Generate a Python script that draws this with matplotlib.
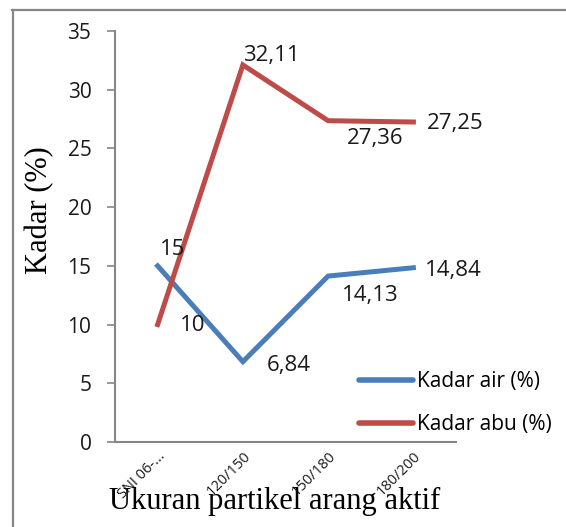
import matplotlib.pyplot as plt
from matplotlib.lines import Line2D

# data
categories = ["SNI 06-...", "120/150", "150/180", "180/200"]
kadar_air = [15, 6.84, 14.13, 14.84]
kadar_abu = [10, 32.11, 27.36, 27.25]
label_air = ["15", "6,84", "14,13", "14,84"]
label_abu = ["10", "32,11", "27,36", "27,25"]
y_ticks = [0, 5, 10, 15, 20, 25, 30, 35]

blue = "#4A7EBB"
red = "#BE4B48"
grey = "#868686"
sans = ["Open Sans", "DejaVu Sans"]
serif = ["Liberation Serif", "DejaVu Serif"]

fig = plt.figure(figsize=(5.66, 5.27), dpi=100)
ax = fig.add_axes([115 / 566, 1 - 442 / 527, (456 - 115) / 566, (442 - 31) / 527])

x = list(range(len(categories)))
ax.plot(x, kadar_air, color=blue, lw=3.6, solid_joinstyle="miter", label="Kadar air (%)")
ax.plot(x, kadar_abu, color=red, lw=3.6, solid_joinstyle="miter", label="Kadar abu (%)")

# data labels (offsets in points)
air_off = [(1.5, 12), (17, -3), (10, -14), (8.6, -2)]
abu_off = [(16, -0.7), (0, 7), (13.7, -12.5), (10, -1.4)]
for i in x:
    ax.annotate(label_air[i], (i, kadar_air[i]), xytext=air_off[i], textcoords="offset points",
                fontsize=16, family=sans, color="#1a1a1a", va="center", ha="left")
    ax.annotate(label_abu[i], (i, kadar_abu[i]), xytext=abu_off[i], textcoords="offset points",
                fontsize=16, family=sans, color="#1a1a1a", va="center", ha="left")

ax.set_xlim(-0.5, 3.5)
ax.set_ylim(0, 35)
ax.set_yticks(y_ticks)
ax.set_xticks(x)
ax.set_xticklabels(categories, rotation=45, ha="right", rotation_mode="anchor",
                   fontsize=10.5, family=sans, color="#1a1a1a")
for lab in ax.get_yticklabels():
    lab.set_fontsize(15)
    lab.set_family(sans)
    lab.set_color("#1a1a1a")
ax.tick_params(axis="y", direction="out", length=6, width=1.2, color=grey, pad=11)
ax.tick_params(axis="x", length=0, pad=5)

for side in ["top", "right"]:
    ax.spines[side].set_visible(False)
for side in ["left", "bottom"]:
    ax.spines[side].set_color(grey)
    ax.spines[side].set_linewidth(1.5)

fig.text(40 / 566, 1 - 210 / 527, "Kadar (%)", fontsize=22, family=serif,
         rotation=90, ha="center", va="center")
fig.text(275 / 566, 1 - 501 / 527, "Ukuran partikel arang aktif", fontsize=22,
         family=serif, ha="center", va="center")

leg = fig.legend(loc="center left", bbox_to_anchor=(340 / 566, 1 - 403 / 527),
                 frameon=False, prop={"family": sans, "size": 15},
                 handlelength=2.6, handletextpad=0.2, labelspacing=1.05)
for line in leg.get_lines():
    line.set_linewidth(4)
    line.set_solid_capstyle("round")

# outer frame
fig.add_artist(Line2D([13 / 566, 13 / 566], [0, 1 - 10 / 527], color=grey, lw=1.6,
                      transform=fig.transFigure))
fig.add_artist(Line2D([12 / 566, 1], [1 - 10 / 527, 1 - 10 / 527], color=grey, lw=1.6,
                      transform=fig.transFigure))

fig.savefig("out.png", dpi=100)
